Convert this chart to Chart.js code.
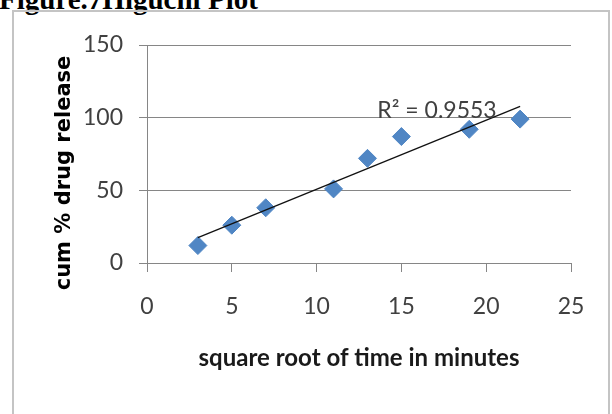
<!DOCTYPE html>
<html>
<head>
<meta charset="utf-8">
<script src="https://cdn.jsdelivr.net/npm/chart.js@4.4.0/dist/chart.umd.min.js"></script>
<style>
    body { margin: 0; width: 612px; height: 414px; overflow: hidden; background: #fff; position: relative; }
    #fig-title { position: absolute; left: -1px; top: -15px; font: bold 29px 'Liberation Serif', 'Times New Roman', serif; line-height: 29px; white-space: nowrap; color: #000; }
    #frame { position: absolute; left: 12px; top: 10px; width: 598px; height: 420px; border: 2px solid #c4c4c4; box-sizing: border-box; }
    #wrap { position: absolute; left: 0; top: 0; width: 612px; height: 414px; }
</style>
</head>
<body>
<div id="fig-title">Figure.7Higuchi Plot</div>
<div id="frame"></div>
<div id="wrap"><canvas id="chart" width="612" height="414"></canvas></div>
<script>
    // --- DATA ---
    const sqrtTime = [3, 5, 7, 11, 13, 15, 19, 22];
    const cumRelease = [12, 26, 38, 51, 72, 87, 92, 99];
    const xTickValues = [0, 5, 10, 15, 20, 25];
    const yTickValues = [0, 50, 100, 150];
    const rSquaredText = 'R\u00B2 = 0.9553';

    const LABEL_FONT = "Lato, 'Open Sans', sans-serif";

    // least squares fit for the trendline, from the data above
    function linearFit(xs, ys) {
        const n = xs.length;
        const mx = xs.reduce((a, b) => a + b, 0) / n;
        const my = ys.reduce((a, b) => a + b, 0) / n;
        let sxy = 0, sxx = 0;
        xs.forEach((x, i) => { sxy += (x - mx) * (ys[i] - my); sxx += (x - mx) * (x - mx); });
        const slope = sxy / sxx;
        return { slope, intercept: my - slope * mx };
    }
    const fit = linearFit(sqrtTime, cumRelease);
    const xMin = Math.min(...sqrtTime), xMax = Math.max(...sqrtTime);
    const trendPoints = [xMin, xMax].map(x => ({ x, y: fit.intercept + fit.slope * x }));
    const points = sqrtTime.map((x, i) => ({ x, y: cumRelease[i] }));

    // extra labels: y title and R² text
    const labelsPlugin = {
        id: 'extraLabels',
        afterDraw(chart) {
            const { ctx, scales } = chart;
            ctx.save();
            // R² label, anchored in data space
            ctx.font = `23px ${LABEL_FONT}`;
            ctx.fillStyle = '#404040';
            ctx.textAlign = 'center';
            ctx.textBaseline = 'middle';
            ctx.fillText(rSquaredText, scales.x.getPixelForValue(17.1), scales.y.getPixelForValue(105));
            // rotated y title
            ctx.translate(65, 173);
            ctx.rotate(-Math.PI / 2);
            ctx.font = "bold 21px 'DejaVu Sans', sans-serif";
            ctx.fillStyle = '#000';
            ctx.fillText('cum % drug release', 0, 0);
            ctx.restore();
        }
    };

    new Chart(document.getElementById('chart'), {
        type: 'scatter',
        data: {
            datasets: [
                {
                    label: 'Linear (trend)',
                    data: trendPoints,
                    showLine: true,
                    borderColor: '#111',
                    borderWidth: 1.3,
                    pointRadius: 0
                },
                {
                    label: 'cum % drug release',
                    data: points,
                    pointStyle: 'rectRot',
                    pointRadius: 9,
                    backgroundColor: '#5086c4',
                    borderColor: '#5086c4',
                    borderWidth: 1
                }
            ]
        },
        options: {
            responsive: false,
            animation: false,
            layout: { padding: { left: 0, top: 45, right: 41, bottom: 0 } },
            plugins: { legend: { display: false }, tooltip: { enabled: false } },
            scales: {
                x: {
                    type: 'linear',
                    min: 0,
                    max: 25,
                    afterBuildTicks: s => { s.ticks = xTickValues.map(v => ({ value: v })); },
                    afterFit: s => { s.height = 151; },
                    grid: { drawOnChartArea: false, tickLength: 9, color: '#868686' },
                    border: { color: '#868686' },
                    ticks: { color: '#404040', font: { family: LABEL_FONT, size: 23 }, padding: 21, maxRotation: 0 },
                    title: {
                        display: true,
                        text: 'square root of time in minutes',
                        color: '#1a1a1a',
                        font: { family: LABEL_FONT, size: 24, weight: 'bold' },
                        padding: { top: 0, bottom: 41 }
                    }
                },
                y: {
                    min: 0,
                    max: 150,
                    afterBuildTicks: s => { s.ticks = yTickValues.map(v => ({ value: v })); },
                    afterFit: s => { s.width = 147; },
                    grid: { tickLength: 8, color: '#868686' },
                    border: { color: '#868686' },
                    ticks: { color: '#404040', font: { family: LABEL_FONT, size: 23 }, padding: 16 }
                }
            }
        },
        plugins: [labelsPlugin]
    });
</script>
</body>
</html>
